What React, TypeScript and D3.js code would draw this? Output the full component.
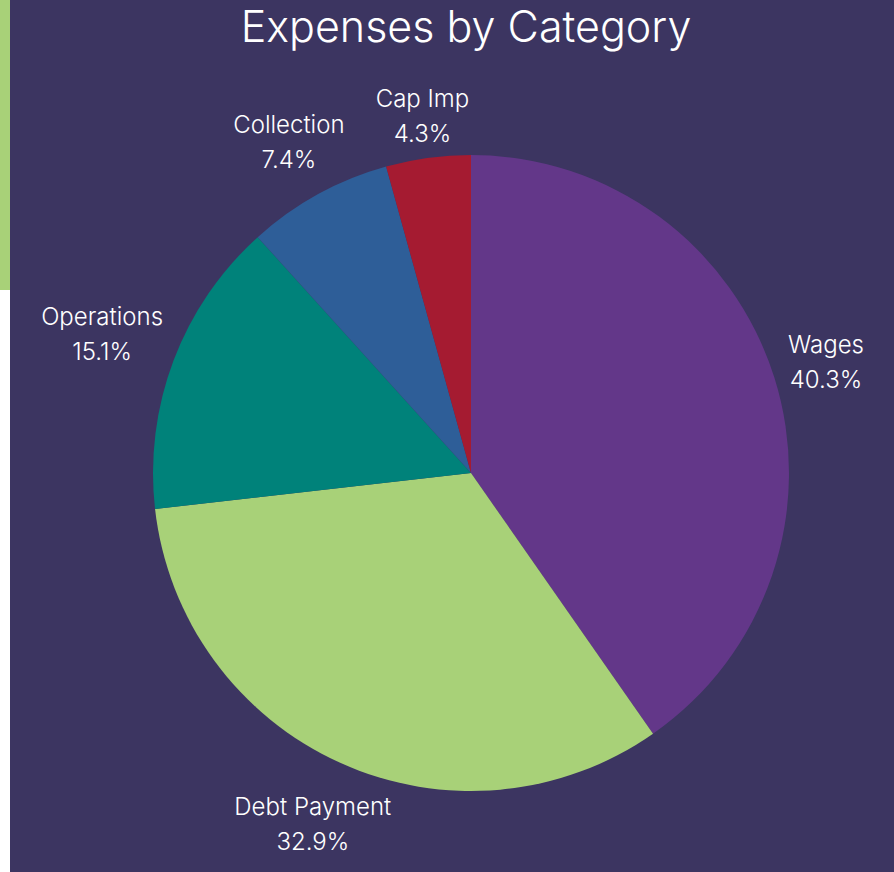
import React from "react";
import * as d3 from "d3";

const categories = ["Wages", "Debt Payment", "Operations", "Collection", "Cap Imp"];
const values = [40.3, 32.9, 15.1, 7.4, 4.3];
const colors = ["#633789", "#a8d178", "#00827a", "#2e5e98", "#a51b31"];
const title = "Expenses by Category";

const W = 894;
const H = 872;
const BG = "#3c3561";
const FONT = "Inter, 'Noto Sans', sans-serif";
const LABEL_SIZE = 24;
const LINE_GAP = 35;

let ctx: CanvasRenderingContext2D | null = null;
function measure(text: string, size: number): number {
  if (typeof document === "undefined") return text.length * size * 0.55;
  if (!ctx) ctx = document.createElement("canvas").getContext("2d");
  if (!ctx) return text.length * size * 0.55;
  ctx.font = `300 ${size}px Inter`;
  return ctx.measureText(text).width;
}

export default function App() {
  const cx = 471;
  const cy = 473;
  const r = 318;
  const data = categories.map((c, i) => ({ name: c, value: values[i], color: colors[i] }));
  const pie = d3.pie<any>().value((d) => d.value).sort(null);
  const arcs = pie(data);
  const arcGen = d3.arc<any>().innerRadius(0).outerRadius(r);
  const gap = 10;

  return (
    <svg width={W} height={H} style={{ position: "absolute", left: 0, top: 0, display: "block" }}>
      <rect x={0} y={0} width={W} height={H} fill="#ffffff" />
      <rect x={10} y={0} width={W - 10} height={H} fill={BG} />
      <rect x={0} y={0} width={10} height={290} fill="#a8d178" />
      <text
        x={466}
        y={42}
        textAnchor="middle"
        fill="#ffffff"
        fontFamily={FONT}
        fontSize={43}
        fontWeight={300}
      >
        {title}
      </text>
      <g transform={`translate(${cx},${cy})`}>
        {arcs.map((a, i) => (
          <path key={i} d={arcGen(a) as string} fill={a.data.color} />
        ))}
        {arcs.map((a, i) => {
          const mid = (a.startAngle + a.endAngle) / 2;
          const s = Math.sin(mid);
          const c = Math.cos(mid);
          const pct = `${a.data.value.toFixed(1)}%`;
          const w = Math.max(measure(a.data.name, LABEL_SIZE), measure(pct, LABEL_SIZE));
          const h = LINE_GAP + LABEL_SIZE - 6;
          const dist = r + gap + Math.abs(s) * (w / 2) + Math.abs(c) * (h / 2);
          const lx = s * dist;
          const ly = -c * dist + 4;
          return (
            <text
              key={"l" + i}
              x={lx}
              y={ly}
              textAnchor="middle"
              fill="#ffffff"
              fontFamily={FONT}
              fontSize={LABEL_SIZE}
              fontWeight={300}
            >
              <tspan x={lx} dy={-LINE_GAP / 2 + 5}>{a.data.name}</tspan>
              <tspan x={lx} dy={LINE_GAP}>{pct}</tspan>
            </text>
          );
        })}
      </g>
    </svg>
  );
}
